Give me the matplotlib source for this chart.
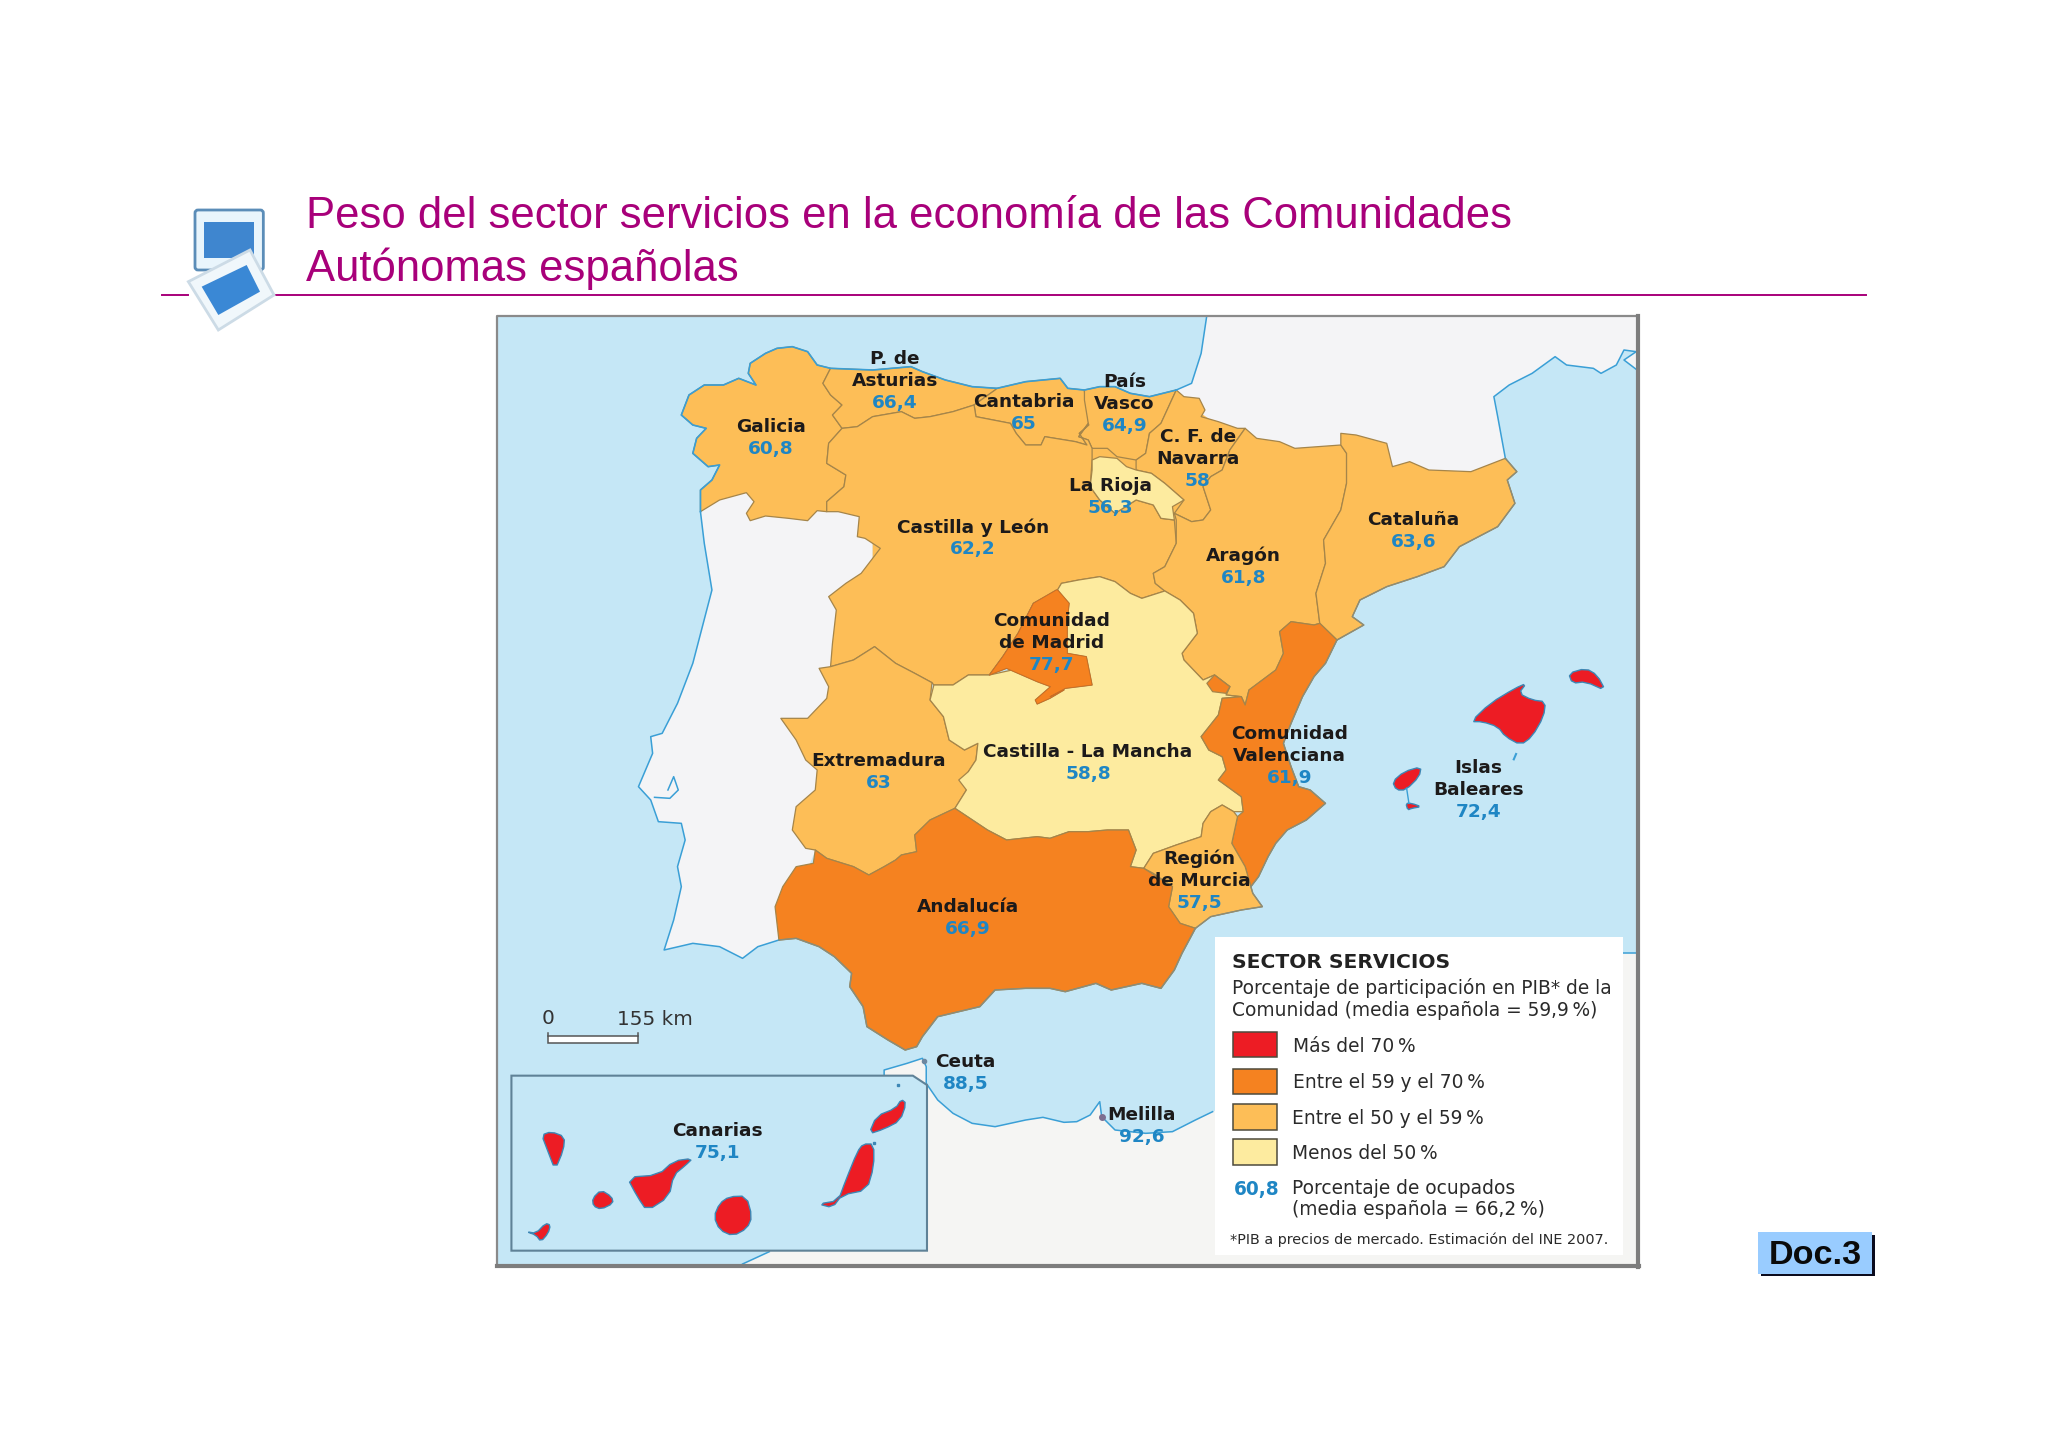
import matplotlib
matplotlib.use("Agg")
import matplotlib.pyplot as plt
from matplotlib.patches import Polygon, Rectangle, FancyBboxPatch

W, H = 2048, 1447
OV = 2048 / 1568
TILES = {1: (490, 310), 2: (1050, 310), 3: (490, 780), 4: (1050, 780)}

def path(*pieces):
    out = []
    for tile, pts in pieces:
        ox, oy = TILES[tile]
        out += [(ox + x * 600 / 1568, oy + y / 3) for x, y in pts]
    return out

def rounded(pts):
    out = []
    for i, (x0, y0) in enumerate(pts):
        x1, y1 = pts[(i + 1) % len(pts)]
        out += [(0.75 * x0 + 0.25 * x1, 0.75 * y0 + 0.25 * y1), (0.25 * x0 + 0.75 * x1, 0.25 * y0 + 0.75 * y1)]
    return out

# ---- data -------------------------------------------------------------
names = ["Galicia", "P. de\nAsturias", "Cantabria", "País\nVasco", "C. F. de\nNavarra", "La Rioja",
         "Castilla y León", "Aragón", "Cataluña", "Comunidad\nde Madrid", "Castilla - La Mancha",
         "Extremadura", "Comunidad\nValenciana", "Islas\nBaleares", "Región\nde Murcia", "Andalucía",
         "Ceuta", "Melilla", "Canarias"]
pib_ocupados = [60.8, 66.4, 65, 64.9, 58, 56.3, 62.2, 61.8, 63.6, 77.7, 58.8, 63, 61.9, 72.4, 57.5, 66.9, 88.5, 92.6, 75.1]
label_x = [590, 685, 784, 861, 917, 850, 745, 952, 1082, 805, 833, 673, 987, 1132, 918, 741, 739, 874, 549]
label_y = [326, 274, 307, 292, 334, 371, 403, 425, 397, 475, 575, 582, 561, 587, 657, 694, 812, 853, 865]
legend_labels = ["Más del 70\u2009%", "Entre el 59 y el 70\u2009%", "Entre el 50 y el 59\u2009%", "Menos del 50\u2009%"]
legend_colors = ["#ed1c24", "#f58220", "#fdbe57", "#fdeb9f"]

galicia = path((1, [(890,175),(855,165),(830,125),(790,110),(750,115),(720,130),(680,160),(675,190),(695,225),(650,205),(610,225),(560,225),(520,255),(500,315),(530,345),(565,355),(540,385),(530,430),(570,470),(600,465),(580,510),(550,540),(550,605),(600,570),(670,548),(690,575),(670,610),(680,632),(720,618),(780,625),(830,632),(855,602),(880,605),(880,575),(925,530),(930,495),(880,460),(885,400),(920,355),(895,315),(920,285),(890,255),(870,220)]))
asturias = path((1, [(890,175),(1000,180),(1100,170),(1130,185),(1190,210),(1260,230),(1325,235),(1320,240),(1265,285),(1210,305),(1150,320),(1110,325),(1075,305),(1000,320),(960,350),(920,355),(895,315),(920,285),(890,255),(870,220)]))
cantabria = path((1, [(1325,235),(1400,215),(1490,205),(1510,235),(1553,240),(1560,300),(1565,345),(1540,370),(1560,405),(1530,395),(1450,380),(1440,405),(1400,405),(1375,370),(1360,340),(1270,320),(1265,285),(1320,240)]))
pais_vasco = path((2, [(90,240),(130,230),(170,230),(210,250),(260,260),(330,240),(310,290),(290,340),(260,370),(250,430),(225,450),(175,440),(150,415),(110,415),(100,390),(75,380),(100,340),(90,270)]))
navarra = path((2, [(330,240),(350,260),(390,265),(405,300),(395,320),(440,335),(490,355),(510,355),(470,420),(450,480),(420,500),(400,530),(420,600),(400,630),(370,635),(325,610),(350,570),(300,520),(265,490),(225,480),(225,450),(250,430),(260,370),(290,340),(310,290)]))
rioja = path((2, [(110,450),(130,440),(175,445),(200,470),(225,480),(265,490),(300,520),(350,570),(320,590),(325,630),(290,625),(270,585),(225,570),(170,610),(130,570),(105,530),(110,480)]))
aragon = path((2, [(510,355),(540,385),(600,395),(640,415),(700,410),(760,405),(775,430),(775,520),(760,600),(715,690),(720,760),(695,850),(705,940),(690,945),(630,935),(600,965),(610,1030),(590,1080),(520,1140),(510,1185),(500,1160),(460,1155),(470,1130),(430,1095),(400,1110),(350,1050),(345,1030),(385,970),(375,910),(340,870),(300,843),(275,820),(270,790),(300,770),(330,700),(330,630),(325,610),(370,635),(400,630),(420,600),(400,530),(420,500),(450,480),(470,420)]))
cataluna = path((2, [(760,405),(760,370),(800,375),(880,400),(895,470),(940,455),(990,480),(1100,485),(1190,445),(1220,485),(1195,510),(1215,580),(1170,650),(1070,710),(1030,770),(960,800),(880,830),(810,870),(790,920),(820,945),(750,990),(705,940),(695,850),(720,760),(715,690),(760,600),(775,520),(775,430)]))
valencia = path((2, [(630,935),(690,945),(705,940),(750,990),(720,1060),(690,1100),(660,1160),(630,1240),(610,1300),(630,1370),(650,1430),(680,1440)]),
                (4, [(720,70),(670,120),(620,150),(590,190),(570,230),(545,290),(525,320),(510,260),(475,190),(490,110),(505,95),(500,50),(440,0)]),
                (2, [(460,1380),(450,1340),(415,1320),(395,1280),(440,1215),(450,1165),(500,1160),(510,1185),(520,1140),(590,1080),(610,1030),(600,965)]))
ademuz = path((2, [(430,1095),(470,1130),(460,1150),(425,1145),(410,1120)]))
murcia = path((4, [(525,320),(530,340),(555,380),(500,390),(420,410),(380,445),(340,430),(310,380),(320,320),(270,280),(245,265),(270,220),(330,195),(395,170),(400,130),(420,95),(450,75),(480,95),(490,110),(475,190),(510,260)]))
clm = path((1, [(1160,1125),(1210,1125),(1250,1095),(1305,1095),(1483,1050),(1483,840)]),
           (2, [(30,820),(75,810),(130,800),(170,815),(210,850),(240,865),(300,843),(340,870),(375,910),(385,970),(345,1030),(350,1050),(400,1110),(430,1095),(470,1130),(460,1155),(500,1160),(450,1165),(440,1215),(395,1280),(415,1320),(450,1340),(460,1380),(440,1410)]),
           (4, [(500,50),(505,95),(480,95),(450,75),(420,95),(400,130),(395,170),(330,195),(270,220),(245,265),(210,260),(225,210),(205,150),(150,150),(100,155),(50,155),(0,175)]),
           (3, [(1430,170),(1350,180),(1300,150),(1215,85),(1245,30),(1225,0)]),
           (1, [(1250,1385),(1270,1350),(1275,1300),(1240,1320),(1200,1290),(1185,1220),(1150,1170)]))
madrid = path((2, [(20,840),(50,880),(45,930),(45,1030),(95,1040),(110,1125),(40,1135),(0,1160)]),
              (1, [(1500,1140),(1463,1165),(1430,1182),(1425,1170),(1465,1130),(1430,1115),(1350,1075),(1305,1095),(1340,1040),(1380,970),(1420,880),(1480,840)]))
cyl = path((1, [(920,355),(960,350),(1000,320),(1075,305),(1110,325),(1150,320),(1210,305),(1265,285),(1270,320),(1360,340),(1375,370),(1400,405),(1440,405),(1450,380),(1530,395),(1560,405),(1540,370),(1565,345)]),
           (2, [(100,340),(75,380),(100,390),(110,415),(110,450),(105,530),(130,570),(170,610),(225,570),(270,585),(290,625),(325,630),(330,700),(300,770),(270,790),(275,820),(300,843),(240,865),(210,850),(170,815),(130,800),(75,810),(30,820),(20,840)]),
           (1, [(1420,880),(1380,970),(1340,1040),(1305,1095),(1250,1095),(1210,1125),(1160,1125),(1155,1118),(1110,1090),(1060,1060),(1005,1010),(950,1050),(890,1070),(895,1000),(905,900),(885,860),(930,820),(970,790),(1000,745),(1020,715),(980,685),(960,680),(965,620),(910,605),(880,605),(880,575),(925,530),(930,495),(880,460),(885,400)]))
extremadura = path((1, [(890,1070),(950,1050),(1005,1010),(1060,1060),(1110,1090),(1155,1118),(1150,1170),(1185,1220),(1200,1290),(1240,1320),(1275,1300),(1270,1350),(1250,1385)]),
                   (3, [(1245,30),(1215,85),(1150,120),(1110,165),(1115,215),(1075,225),(1060,240),(1030,260),(990,285),(950,260),(880,235),(850,210),(825,205),(790,150),(800,80),(850,30)]),
                   (1, [(855,1380),(825,1350),(800,1290),(760,1225),(830,1225),(880,1165),(885,1130),(860,1075)]))
andalucia = path((3, [(850,210),(880,235),(950,260),(990,285),(1030,260),(1060,240),(1075,225),(1115,215),(1110,165),(1150,120),(1215,85),(1300,150),(1350,180),(1430,170)]),
                 (4, [(0,175),(50,155),(100,155),(150,150),(205,150),(225,210),(210,260),(245,265),(320,320),(310,380),(340,430),(380,445),(345,520),(325,570),(290,625),(240,610),(160,630),(120,610),(40,635),(0,625)]),
                 (3, [(1400,625),(1320,630),(1280,680),(1170,710),(1130,770),(1115,800),(1085,810),(1040,780),(985,740),(975,680),(940,620),(945,580),(900,530),(860,500),(800,475),(755,480),(745,380),(765,320),(800,260),(845,250)]))
spain_backing = path((1, [(1000,260),(1553,260)]), (2, [(330,260),(510,400),(700,800),(0,800)]), (1, [(1000,800)]))
portugal_coast = path((1, [(550,605),(560,700),(580,840),(530,1060),(490,1180),(450,1270),(420,1280),(425,1330),(388,1430),(420,1470)]),
                      (3, [(440,125),(500,130),(510,180),(490,260),(500,320),(480,420),(455,510),(530,490),(600,500),(660,535),(700,500),(755,480)]))
tagus_estuary = path((1, [(430,1462),(470,1465),(492,1440),(480,1400),(465,1440)]))
france_coast_w = path((2, [(410,15),(395,130),(370,220),(330,240)]))
france_coast_e = path((2, [(1190,445),(1170,320),(1160,260),(1200,225),(1260,190),(1320,140),(1350,165),(1420,175),(1440,190),(1480,165),(1500,120),(1532,125),(1500,150),(1532,178)]))
africa_coast = path((3, [(730,1415),(660,1452)]))
africa_north = path((3, [(1030,885),(1030,870),(1090,850),(1130,835),(1140,860),(1140,910),(1170,960),(1210,1000),(1260,1030),(1320,1040),(1400,1020),(1445,1012),(1500,1027)]),
                    (4, [(70,1025),(105,1005),(130,965),(135,1010),(170,1050),(250,1060),(320,1055),(380,1020),(425,995)]))
east_coast = path((2, [(1190,445),(1220,485),(1195,510),(1215,580),(1170,650),(1070,710),(1030,770),(960,800),(880,830),(810,870),(790,920),(820,945),(750,990)]))

islands_bal = [
    path((2, [(1100,1235),(1150,1180),(1215,1135),(1245,1120),(1225,1150),(1260,1170),(1295,1175),(1290,1220),(1260,1280),(1230,1305),(1190,1280),(1170,1250),(1130,1235)])),
    path((2, [(1355,1090),(1400,1075),(1430,1095),(1452,1142),(1400,1115),(1365,1120)])),
    path((2, [(895,1415),(925,1385),(970,1370),(965,1400),(930,1440),(905,1440)])),
    path((4, [(930,70),(945,70),(970,80),(945,85),(935,90)])),
]
islands_can = [
    path((3, [(135,1065),(160,1055),(195,1070),(192,1110),(170,1170),(150,1110)])),
    path((3, [(95,1355),(120,1360),(145,1330),(158,1335),(152,1360),(133,1385),(120,1365)])),
    path((3, [(268,1255),(290,1230),(318,1250),(322,1270),(290,1288),(270,1278)])),
    path((3, [(358,1192),(440,1185),(480,1143),(530,1135),(510,1157),(480,1185),(468,1250),(410,1293),(385,1250)])),
    path((3, [(585,1310),(600,1270),(625,1250),(670,1248),(685,1310),(672,1345),(635,1368),(600,1350)])),
    path((3, [(858,1272),(910,1262),(930,1200),(960,1115),(975,1092),(1003,1092),(1003,1160),(985,1230),(920,1245),(895,1283)])),
    path((3, [(990,1062),(1010,1008),(1060,985),(1075,958),(1088,970),(1072,1022),(1030,1047)])),
]
# ---- figure -----------------------------------------------------------
fig = plt.figure(figsize=(W / 100, H / 100), dpi=100, facecolor="white")
ax = fig.add_axes([0, 0, 1, 1])
ax.set_xlim(0, W)
ax.set_ylim(H, 0)
ax.axis("off")

SEA, LAND = "#c5e7f6", "#f4f4f6"
TITLE = "#a8007a"
NAME, VAL = "#1c1a1a", "#1f86c4"
COAST, BORDER = "#3a9fd6", "#a5854a"
SHORE = "#8c8d78"
L, T, R, B = 497, 316, 1637, 1265

sea = Rectangle((L, T), R - L, B - T, fc=SEA, ec="none", zorder=1)
ax.add_patch(sea)

def poly(pts, fc, ec="none", lw=0.0, z=2):
    p = Polygon(pts, closed=True, fc=fc, ec=ec, lw=lw, zorder=z, joinstyle="round")
    ax.add_patch(p)
    p.set_clip_path(sea)
    return p

def line(pts, color=COAST, lw=1.0, z=5):
    xs, ys = zip(*pts)
    l, = ax.plot(xs, ys, color=color, lw=lw, zorder=z, solid_joinstyle="round")
    l.set_clip_path(sea)

# land masses
poly(france_coast_w[::-1] + path((2, [(1540,15),(1540,178)])) + france_coast_e[::-1] + path((2, [(1190,600),(330,600)])), LAND)
poly(portugal_coast + path((1, [(1000,1200),(1000,540),(600,540)])), LAND)
africa = africa_north + path((4, [(1500,518),(1540,518),(1540,1470)]), (3, [(660,1452),(730,1415)]))
poly(africa, "#f5f5f3")
for p in (france_coast_w, france_coast_e, portugal_coast, tagus_estuary, africa_north, africa_coast):
    line(p, lw=1.1)
line(path((4, [(1497,518),(1535,518)])), lw=1.1)

# regions
MID, ORG, PALE, RED = legend_colors[2], legend_colors[1], legend_colors[3], legend_colors[0]
poly(spain_backing, MID, z=2.5)
for pts, col in [(galicia, MID), (asturias, MID), (cantabria, MID), (pais_vasco, MID), (navarra, MID),
                 (cyl, MID), (aragon, MID), (cataluna, MID), (extremadura, MID),
                 (clm, PALE), (rioja, PALE), (valencia, ORG), (ademuz, ORG), (murcia, MID),
                 (andalucia, ORG), (madrid, ORG)]:
    poly(pts, col, ec=BORDER, lw=0.9, z=3)
poly(madrid, ORG, ec="#c96d25", lw=0.6, z=4)
line(galicia[:23][::-1] + asturias[1:7] + cantabria[1:5] + pais_vasco[:6], lw=1.2)
line(east_coast, color=SHORE, lw=1.0)
line(valencia[3:19], color=SHORE, lw=1.0)
line(murcia[:6], color=SHORE, lw=1.0)
line(andalucia[25:50], color=SHORE, lw=1.1)

# Balearic islands
for pts in islands_bal:
    poly(rounded(pts), RED, ec="#3d87b5", lw=1.0, z=4)
line(path((4, [(932,25),(938,70)])), lw=1.0)
line(path((2, [(1212,1348),(1218,1332)])), lw=1.5)

# inset
inset = path((3, [(56,887),(1105,887),(1142,915),(1142,1412),(56,1412)]))
ax.add_patch(Polygon(inset, closed=True, fc=SEA, ec="#5f8297", lw=1.5, zorder=6))
for pts in islands_can:
    poly(rounded(pts), RED, ec="#3d87b5", lw=1.0, z=7)
ax.plot(*zip(*path((3, [(1067,915)]))), "s", color="#3d87b5", ms=2, zorder=7)
ax.plot(*zip(*path((3, [(1004,1090)]))), "s", color="#3d87b5", ms=2, zorder=7)

# Ceuta / Melilla marks
ax.plot(*zip(*path((3, [(1135,842)]))), "o", color="#6d87a0", ms=3, zorder=7)
ax.plot(*zip(*path((4, [(135,1012)]))), "o", color="#7d6f90", ms=4, zorder=7)

# scale bar
(x0, y0), (x1, y1) = path((3, [(152, 768), (386, 790)]))
ax.add_patch(Rectangle((x0, y0), x1 - x0, y1 - y0, fc="white", ec="#555555", lw=1.1, zorder=6))
ax.plot([x0, x0], [y0 - 3, y0], color="#555555", lw=1.1, zorder=6)
ax.plot([x1, x1], [y0 - 3, y0], color="#555555", lw=1.1, zorder=6)
for z_pt, s in (((153, 717), "0"), ((430, 719), "155 km")):
    (tx, ty), = path((3, [z_pt]))
    ax.text(tx, ty, s, ha="center", va="center", color="#333333", fontsize=14.4, family="DejaVu Sans", zorder=8)

# frame
ax.plot([L, L, R], [B, T, T], color="#8a8a8a", lw=1.6, zorder=9)
ax.plot([R + 1, R + 1], [T, B + 2], color="#7d7d7d", lw=3, zorder=9)
ax.plot([L, R + 2], [B + 1, B + 1], color="#7d7d7d", lw=3, zorder=9)

# names and values
for name, v, lx, ly in zip(names, pib_ocupados, label_x, label_y):
    y = ly + 0.8
    for t in name.split("\n"):
        ax.text(lx * OV, y * OV, t, ha="center", va="center", color=NAME, fontsize=13.3,
                fontweight="bold", family="DejaVu Sans", zorder=10)
        y += 16.8
    ax.text(lx * OV, y * OV, f"{v:g}".replace(".", ","), ha="center", va="center", color=VAL,
            fontsize=13.3, fontweight="bold", family="DejaVu Sans", zorder=10)

# legend panel
(px0, py0), (px1, py1) = path((4, [(432, 472), (1497, 1425)]))
ax.add_patch(Rectangle((px0, py0), px1 - px0, py1 - py0, fc="white", ec="none", zorder=8))
def ltext(zx, zy, s, size=13.4, weight="normal", color="#2a2a2a", ha="left"):
    (tx, ty), = path((4, [(zx, zy)]))
    ax.text(tx, ty, s, ha=ha, va="center", fontsize=size, fontweight=weight, color=color,
            family="DejaVu Sans", zorder=10)
ltext(475, 546, "SECTOR SERVICIOS", size=14.6, weight="bold", color="#222222")
ltext(475, 625, "Porcentaje de participación en PIB* de la")
ltext(475, 690, "Comunidad (media española = 59,9\u2009%)")
swatch_tops = [755, 866, 973, 1078]
swatch_text_x = [636, 636, 632, 632]
for lab, col, top, tx in zip(legend_labels, legend_colors, swatch_tops, swatch_text_x):
    (a, b), (c, d) = path((4, [(478, top), (593, top + 77)]))
    ax.add_patch(Rectangle((a, b), c - a, d - b, fc=col, ec="#4d4a3c", lw=1.1, zorder=9))
    ltext(tx, top + 43, lab)
ltext(541, 1227, "60,8", weight="bold", color=VAL, ha="center")
ltext(632, 1224, "Porcentaje de ocupados")
ltext(632, 1289, "(media española = 66,2\u2009%)")
ltext(470, 1380, "*PIB a precios de mercado. Estimación del INE 2007.", size=10.4)

# title and rule
title_font = "Liberation Sans"
ax.text(306, 216.5, "Peso del sector servicios en la economía de las Comunidades", fontsize=31.45,
        color=TITLE, family=title_font, va="center", ha="left", zorder=10)
ax.text(306, 268.5, "Autónomas españolas", fontsize=31.45, color=TITLE, family=title_font,
        va="center", ha="left", zorder=10)
ax.plot([162, 188], [295, 295], color=TITLE, lw=1.4, zorder=2)
ax.plot([274, 1866], [295, 295], color=TITLE, lw=1.4, zorder=2)

# icon
def ic(pts):
    return [(150 + x / 3, 170 + y / 3) for x, y in pts]
a, b = ic([(135, 120), (340, 300)])
ax.add_patch(FancyBboxPatch((a[0] + 3, a[1] + 3), b[0] - a[0] - 6, b[1] - a[1] - 6, boxstyle="round,pad=3",
                            fc="#e9f5fc", ec="#5b8db8", lw=2, zorder=3))
a, b = ic([(163, 157), (313, 265)])
ax.add_patch(Rectangle(a, b[0] - a[0], b[1] - a[1], fc="#3f86cf", ec="none", zorder=3))
ax.add_patch(Polygon(ic([(115, 335), (300, 240), (372, 375), (205, 480)]), closed=True, fc="#f0f7fb",
                     ec="#ccdbe6", lw=2, zorder=4))
ax.add_patch(Polygon(ic([(155, 350), (290, 285), (330, 365), (205, 435)]), closed=True, fc="#3a88d5",
                     ec="none", zorder=4))

# Doc.3
ax.add_patch(Rectangle((1761, 1235), 114, 41, fc="#0b0b1e", ec="none", zorder=3))
ax.add_patch(Rectangle((1758, 1232), 114, 42, fc="#99ccff", ec="none", zorder=4))
ax.text(1815, 1255, "Doc.3", fontsize=24.6, fontweight="bold", family=title_font, color="#0a0a0a",
        ha="center", va="center", zorder=5)

fig.savefig("out.png", dpi=100)
